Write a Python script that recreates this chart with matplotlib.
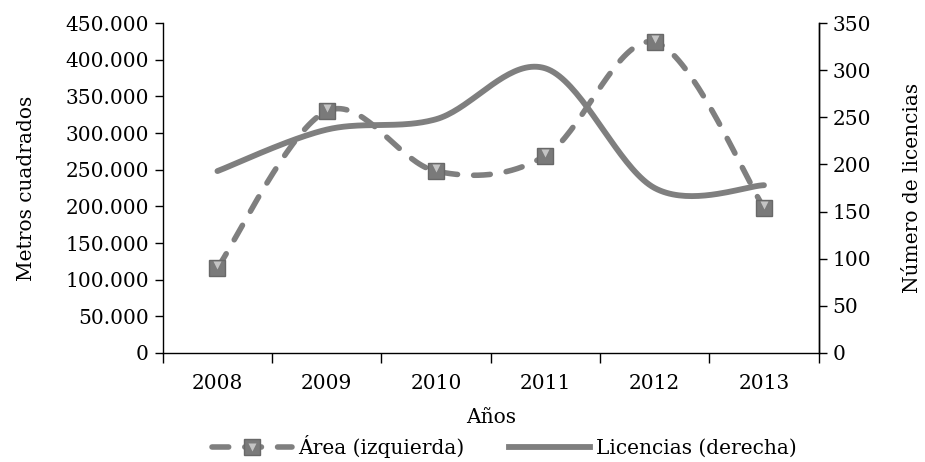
import matplotlib
matplotlib.use("Agg")
import matplotlib.pyplot as plt
from matplotlib.legend_handler import HandlerTuple
import numpy as np
from matplotlib.ticker import FuncFormatter, FixedLocator
from matplotlib.lines import Line2D

# Datos
years = ["2008", "2009", "2010", "2011", "2012", "2013"]
area = [116000, 330000, 248000, 269000, 424000, 198000]   # metros cuadrados (izquierda)
licencias = [193, 237, 248, 302, 175, 178]                 # numero de licencias (derecha)

plt.rcParams['font.family'] = ['DejaVu Serif']
GRAY = "#7f7f7f"
FS = 14.5
DASH = (0, (3.0, 2.9))


def smooth(xs, ys, sx, sy, n=40):
    # curva suavizada tipo Excel (Bezier con tension 1/6), en espacio de pantalla
    px = np.asarray(xs, float) * sx
    py = np.asarray(ys, float) * sy
    pts = np.column_stack([px, py])
    out = []
    for i in range(len(pts) - 1):
        p0 = pts[max(i - 1, 0)]
        p1 = pts[i]
        p2 = pts[i + 1]
        p3 = pts[min(i + 2, len(pts) - 1)]
        c1 = p1 + (p2 - p0) / 6
        c2 = p2 - (p3 - p1) / 6
        t = np.linspace(0, 1, n)[:, None]
        seg = (1 - t) ** 3 * p1 + 3 * (1 - t) ** 2 * t * c1 + 3 * (1 - t) * t ** 2 * c2 + t ** 3 * p2
        out.append(seg if i == 0 else seg[1:])
    out = np.vstack(out)
    return out[:, 0] / sx, out[:, 1] / sy


fig = plt.figure(figsize=(9.25, 4.62), dpi=100)
ax = fig.add_axes([0.176, 0.236, 0.709, 0.714])
ax2 = ax.twinx()

x = np.arange(len(years))
cat_px = 109.4
ax_h = 330.0

# Licencias (derecha), linea continua
lx, ly = smooth(x, licencias, cat_px, ax_h / 350)
ax2.plot(lx, ly, color=GRAY, lw=4.2, solid_capstyle='round', zorder=2)

# Area (izquierda), linea discontinua con marcadores
area_r = np.array(area) * 350 / 450000
axx, ayy = smooth(x, area_r, cat_px, ax_h / 350)
ax2.plot(axx, ayy, color=GRAY, lw=4.0, linestyle=DASH, dash_capstyle='round', zorder=3)
ax2.plot(x, area_r, 's', ms=12, color="#7a7a7a", mec="#686868", mew=1, zorder=4)
ax2.plot(x, area_r + 3, 'v', ms=6, color="#c4c4c4", mec="none", zorder=5)

ax.set_xlim(-0.5, 5.5)
ax.set_ylim(0, 450000)
ax2.set_ylim(0, 350)
ax.set_yticks(np.arange(0, 450001, 50000))
ax2.set_yticks(np.arange(0, 351, 50))
ax.yaxis.set_major_formatter(FuncFormatter(lambda v, p: f"{int(v):,}".replace(",", ".")))

ax.xaxis.set_major_locator(FixedLocator(np.arange(-0.5, 5.6, 1)))
ax.xaxis.set_major_formatter(FuncFormatter(lambda v, p: ""))
ax.set_xticks(x, minor=True)
ax.set_xticklabels(years, minor=True)
ax.tick_params(axis='x', which='minor', length=0, labelsize=FS, pad=15)
ax.tick_params(axis='x', which='major', length=7, width=1, direction='out')
ax.tick_params(axis='y', length=6, width=1, labelsize=FS, pad=4)
ax2.tick_params(axis='y', length=6, width=1, labelsize=FS, pad=4)

for a in (ax, ax2):
    a.spines['top'].set_visible(False)
    for s in a.spines.values():
        s.set_linewidth(1.0)
ax2.spines['left'].set_visible(False)
ax2.spines['bottom'].set_visible(False)

ax.set_xlabel("Años", fontsize=FS, labelpad=11)
ax.set_ylabel("Metros cuadrados", fontsize=FS, labelpad=21)
ax2.set_ylabel("Número de licencias", fontsize=FS, labelpad=23)

h1 = (Line2D([0], [0], color=GRAY, lw=4.0, linestyle=DASH, dash_capstyle='round'),
      Line2D([0], [0], marker='s', ms=12, color="#7a7a7a", mec="#686868", ls='none'),
      Line2D([0], [0], marker='v', ms=6, color="#c4c4c4", mec="none", ls='none'))
h2 = Line2D([0], [0], color=GRAY, lw=4.2)
fig.legend([h1, h2], ["Área (izquierda)", "Licencias (derecha)"], loc='center',
           bbox_to_anchor=(0.545, 0.033), ncol=2, frameon=False, fontsize=FS,
           handlelength=4.0, handletextpad=0.3, columnspacing=2.2,
           handler_map={tuple: HandlerTuple(ndivide=1, pad=0)})

fig.savefig("out.png", dpi=100)
